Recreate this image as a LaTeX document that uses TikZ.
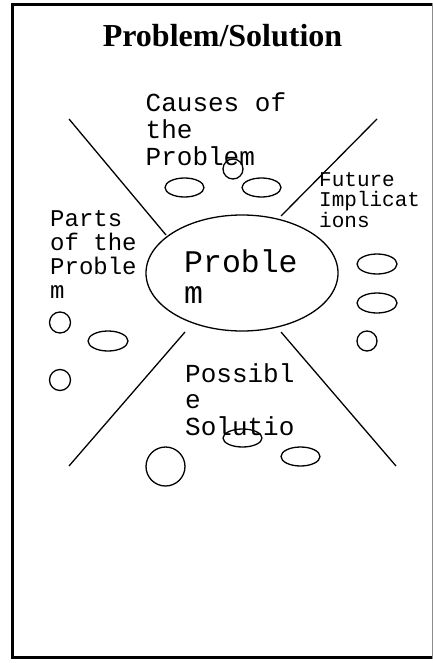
\documentclass[tikz,border=0pt]{standalone}
\usepackage{fontspec}
\setmainfont{Liberation Serif}
\newfontfamily\monofam{Liberation Mono}
\begin{document}
\begin{tikzpicture}[x=1pt,y=-1pt,
  shape line/.style={line width=1.3pt, black},
  spoke/.style={line width=1.3pt, black},
  frame line/.style={line width=3pt, black, line join=miter},
  label text/.style={anchor=base west, inner sep=0pt, align=left},
]
\useasboundingbox (0,0) rectangle (433,663);
% frame
\draw[frame line] (433,4.5) -- (12,4.5) -- (12,657.5) -- (433,657.5);
\draw[line width=1pt, black!45] (432.5,3) -- (432.5,659);
% title
\node[anchor=base, inner sep=0pt, font=\fontsize{32}{36}\selectfont\bfseries] (title) at (222.5,47) {Problem/Solution};
% spokes
\draw[spoke] (69,119) -- (166,235);
\draw[spoke] (377,119) -- (281,216);
\draw[spoke] (185,332) -- (69,466);
\draw[spoke] (281,332) -- (396,466);
% central ellipse
\draw[shape line] (242,273) ellipse [x radius=96, y radius=58];
\node[label text, font=\fontsize{31.5}{31}\selectfont\monofam] (problem) at (184,303) {Proble\\m};
% causes
\node[label text, font=\fontsize{26}{27}\selectfont\monofam] (causes) at (145.5,166) {Causes of\\the\\Problem};
\draw[shape line] (184.5,187.5) ellipse [x radius=19.5, y radius=9.5];
\draw[shape line] (233,169) ellipse [x radius=10, y radius=10];
\draw[shape line] (261.5,187.5) ellipse [x radius=19.5, y radius=9.5];
% future
\node[label text, font=\fontsize{21}{20.5}\selectfont\monofam] (future) at (319,227) {Future\\Implicat\\ions};
\draw[shape line] (377,264) ellipse [x radius=20, y radius=10];
\draw[shape line] (377,303) ellipse [x radius=20, y radius=10];
\draw[shape line] (367,341) ellipse [x radius=10, y radius=10];
% parts
\node[label text, font=\fontsize{24}{24}\selectfont\monofam] (parts) at (50,298) {Parts\\of the\\Proble\\m};
\draw[shape line] (60,322.5) ellipse [x radius=10.5, y radius=10.5];
\draw[shape line] (108,341) ellipse [x radius=20, y radius=10];
\draw[shape line] (60,380) ellipse [x radius=10.5, y radius=10.5];
% possible solution
\node[label text, font=\fontsize{26}{26.5}\selectfont\monofam] (possible) at (185,435) {Possibl\\e\\Solutio};
\draw[shape line] (242.5,438) ellipse [x radius=19.5, y radius=9];
\draw[shape line] (165.5,466.5) ellipse [x radius=19.5, y radius=19.5];
\draw[shape line] (300.5,456.5) ellipse [x radius=19.5, y radius=9.5];
\end{tikzpicture}
\end{document}
